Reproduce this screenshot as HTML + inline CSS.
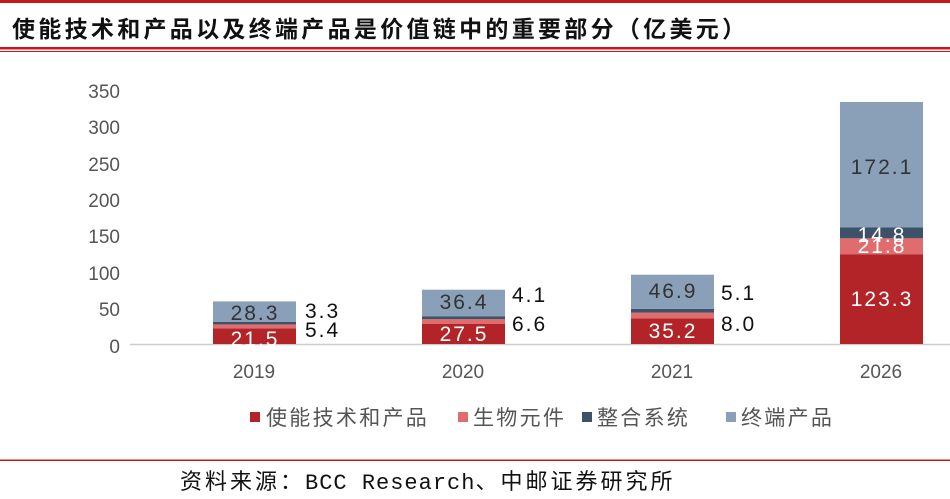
<!DOCTYPE html>
<html><head><meta charset="utf-8"><style>
body{margin:0;background:#fff}
svg{display:block}
</style></head><body>
<svg width="950" height="499" xmlns="http://www.w3.org/2000/svg" font-family="'Liberation Sans','Noto Sans CJK SC',sans-serif">
<rect x="0" y="0" width="950" height="3" fill="#C8161D"/>
<text x="12" y="37" font-size="23" font-weight="bold" letter-spacing="3.3" fill="#111" font-family="'Noto Sans CJK SC',sans-serif">使能技术和产品以及终端产品是价值链中的重要部分（亿美元）</text>
<rect x="0" y="47" width="950" height="2.5" fill="#C8161D"/>
<rect x="0" y="51" width="950" height="1" fill="#C8161D"/>
<g font-size="19" fill="#555" text-anchor="end">
<text x="120" y="98">350</text><text x="120" y="134">300</text><text x="120" y="171">250</text>
<text x="120" y="207">200</text><text x="120" y="243">150</text><text x="120" y="280">100</text>
<text x="120" y="316">50</text><text x="120" y="353">0</text>
</g>
<line x1="130" y1="344.5" x2="950" y2="344.5" stroke="#ccc" stroke-width="1.5"/>
<rect x="213" y="328.3" width="83" height="15.7" fill="#B22428"/>
<rect x="213" y="324.4" width="83" height="3.9" fill="#E06C6E"/>
<rect x="213" y="322" width="83" height="2.4" fill="#3D5168"/>
<rect x="213" y="301.4" width="83" height="20.6" fill="#8AA0B8"/>
<rect x="422" y="324" width="83" height="20" fill="#B22428"/>
<rect x="422" y="319.2" width="83" height="4.8" fill="#E06C6E"/>
<rect x="422" y="316.2" width="83" height="3" fill="#3D5168"/>
<rect x="422" y="289.7" width="83" height="26.5" fill="#8AA0B8"/>
<rect x="631" y="318.4" width="83" height="25.6" fill="#B22428"/>
<rect x="631" y="312.6" width="83" height="5.8" fill="#E06C6E"/>
<rect x="631" y="308.9" width="83" height="3.7" fill="#3D5168"/>
<rect x="631" y="274.7" width="83" height="34.2" fill="#8AA0B8"/>
<rect x="840" y="254.2" width="83" height="89.8" fill="#B22428"/>
<rect x="840" y="238.3" width="83" height="15.9" fill="#E06C6E"/>
<rect x="840" y="227.5" width="83" height="10.8" fill="#3D5168"/>
<rect x="840" y="102" width="83" height="125.5" fill="#8AA0B8"/>
<g font-size="21" letter-spacing="2" text-anchor="middle">
<text x="255" y="346" fill="#fff">21.5</text>
<text x="255" y="320" fill="#333">28.3</text>
<text x="464" y="341" fill="#fff">27.5</text>
<text x="464" y="309" fill="#333">36.4</text>
<text x="673" y="338" fill="#fff">35.2</text>
<text x="673" y="298" fill="#333">46.9</text>
<text x="882" y="306" fill="#fff">123.3</text>
<text x="882" y="253" fill="#fff">21.8</text>
<text x="882" y="242" fill="#fff">14.8</text>
<text x="882" y="174" fill="#333">172.1</text>
</g>
<g font-size="21" letter-spacing="2" fill="#111">
<text x="305" y="318">3.3</text><text x="305" y="337">5.4</text>
<text x="512" y="302">4.1</text><text x="512" y="331">6.6</text>
<text x="721" y="300">5.1</text><text x="721" y="331">8.0</text>
</g>
<g font-size="19" fill="#555" text-anchor="middle">
<text x="254" y="378">2019</text><text x="463" y="378">2020</text>
<text x="672" y="378">2021</text><text x="881" y="378">2026</text>
</g>
<g font-size="21" letter-spacing="2.3" fill="#555" font-family="'Noto Sans CJK SC',sans-serif">
<rect x="250" y="412" width="10" height="10" fill="#B22428"/><text x="266" y="425">使能技术和产品</text>
<rect x="458" y="412" width="10" height="10" fill="#E06C6E"/><text x="473" y="425">生物元件</text>
<rect x="582" y="412" width="10" height="10" fill="#3D5168"/><text x="597" y="425">整合系统</text>
<rect x="726" y="412" width="10" height="10" fill="#8AA0B8"/><text x="741" y="425">终端产品</text>
</g>
<rect x="0" y="459.5" width="950" height="1.5" fill="#C8161D"/>
<text x="180" y="489" font-size="22" letter-spacing="3" fill="#111" font-family="'Noto Sans CJK SC',sans-serif">资料来源：<tspan font-family="'Liberation Mono',monospace" letter-spacing="1">BCC Research</tspan>、中邮证券研究所</text>
</svg>
</body></html>
